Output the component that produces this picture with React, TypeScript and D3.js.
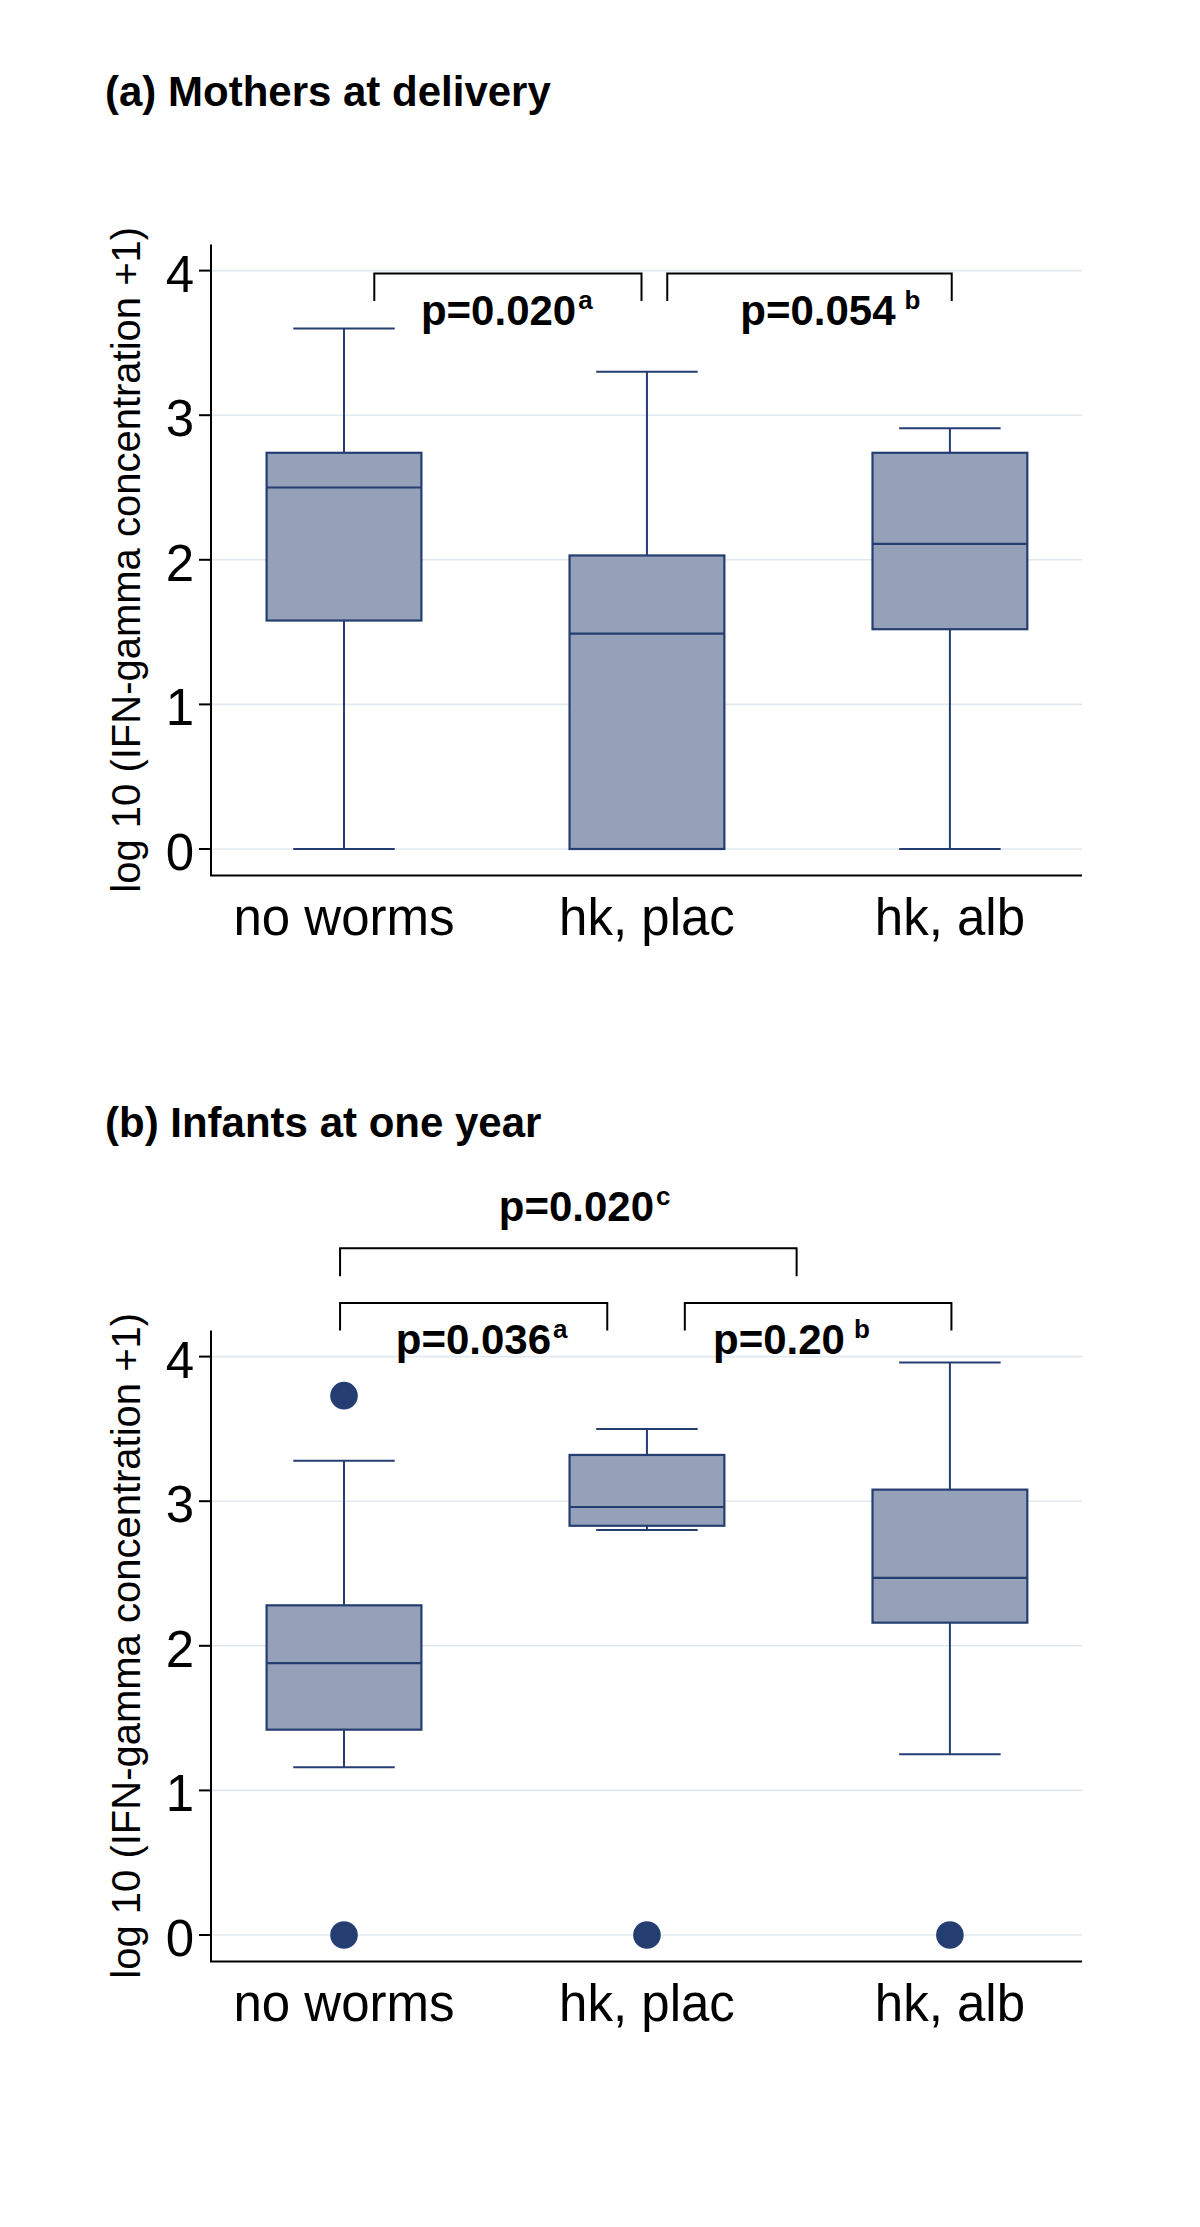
import React from "react";
import * as d3 from "d3";

// ---------- data ----------
const categories = ["no worms", "hk, plac", "hk, alb"];
const yTicks = [0, 1, 2, 3, 4];

// (a) Mothers at delivery
const motherWhiskerLow = [0, 0, 0];
const motherQ1 = [1.58, 0, 1.52];
const motherMedian = [2.5, 1.49, 2.11];
const motherQ3 = [2.74, 2.03, 2.74];
const motherWhiskerHigh = [3.6, 3.3, 2.91];
const motherOutliers: number[][] = [[], [], []];

// (b) Infants at one year
const infantWhiskerLow = [1.16, 2.8, 1.25];
const infantQ1 = [1.42, 2.83, 2.16];
const infantMedian = [1.88, 2.96, 2.47];
const infantQ3 = [2.28, 3.32, 3.08];
const infantWhiskerHigh = [3.28, 3.5, 3.96];
const infantOutliers: number[][] = [[3.73, 0], [0], [0]];

// p-value annotations (brackets in category/value units)
const motherBrackets = [
  { from: 0.1, to: 0.982, top: 3.98, end: 3.79, label: "p=0.020", sup: "a", space: false, lx: 0.254, ly: 3.625 },
  { from: 1.067, to: 2.006, top: 3.98, end: 3.79, label: "p=0.054", sup: "b", space: true, lx: 1.308, ly: 3.625 },
];
const infantBrackets = [
  { from: -0.013, to: 1.494, top: 4.75, end: 4.555, label: "p=0.020", sup: "c", space: false, lx: 0.511, ly: 4.94 },
  { from: -0.013, to: 0.869, top: 4.37, end: 4.18, label: "p=0.036", sup: "a", space: false, lx: 0.171, ly: 4.02 },
  { from: 1.125, to: 2.005, top: 4.37, end: 4.18, label: "p=0.20", sup: "b", space: true, lx: 1.218, ly: 4.02 },
];

const FONT = "'Liberation Sans', Arial, Helvetica, sans-serif";
const STROKE = "#253e72";
const FILL = "#95a1b8";
const GRID = "#e2e8ef";

type Bracket = typeof motherBrackets[number];

function Panel(props: {
  title: string;
  titleY: number;
  y0: number;
  wLow: number[];
  q1: number[];
  med: number[];
  q3: number[];
  wHigh: number[];
  outliers: number[][];
  brackets: Bracket[];
}) {
  const { title, titleY, y0, wLow, q1, med, q3, wHigh, outliers, brackets } = props;
  const unit = 144.6;
  const yMin = -0.183;
  const yMax = 4.18;
  const y = d3.scaleLinear().domain([yMin, yMax]).range([y0 - yMin * unit, y0 - yMax * unit]);
  const x = d3.scaleLinear().domain([-0.439, 2.436]).range([211, 1082]);
  const step = x(1) - x(0);
  const boxW = step * 0.511;
  const capW = step * 0.335;
  const [xL, xR] = x.range();
  const [yB, yT] = y.range();

  return (
    <g>
      <text x={105} y={titleY} fontFamily={FONT} fontWeight="bold" fontSize={42} fill="#000">
        {title}
      </text>
      {/* gridlines */}
      {yTicks.map((t) => (
        <line key={"g" + t} x1={xL} x2={xR} y1={y(t)} y2={y(t)} stroke={GRID} strokeWidth={1.6} />
      ))}
      {/* boxes */}
      {categories.map((c, i) => {
        const cx = x(i);
        return (
          <g key={c}>
            <line x1={cx} x2={cx} y1={y(wHigh[i])} y2={y(q3[i])} stroke={STROKE} strokeWidth={2} />
            <line x1={cx} x2={cx} y1={y(wLow[i])} y2={y(q1[i])} stroke={STROKE} strokeWidth={2} />
            <line x1={cx - capW / 2} x2={cx + capW / 2} y1={y(wHigh[i])} y2={y(wHigh[i])} stroke={STROKE} strokeWidth={2} />
            <line x1={cx - capW / 2} x2={cx + capW / 2} y1={y(wLow[i])} y2={y(wLow[i])} stroke={STROKE} strokeWidth={2} />
            <rect
              x={cx - boxW / 2}
              y={y(q3[i])}
              width={boxW}
              height={y(q1[i]) - y(q3[i])}
              fill={FILL}
              stroke={STROKE}
              strokeWidth={2.2}
            />
            <line x1={cx - boxW / 2} x2={cx + boxW / 2} y1={y(med[i])} y2={y(med[i])} stroke={STROKE} strokeWidth={2.2} />
            {outliers[i].map((o, k) => (
              <circle key={k} cx={cx} cy={y(o)} r={13.8} fill={STROKE} />
            ))}
            <text x={cx} y={yB + 60} textAnchor="middle" fontFamily={FONT} fontSize={51} fill="#000">
              {c}
            </text>
          </g>
        );
      })}
      {/* axes */}
      <line x1={xL} x2={xL} y1={yT} y2={yB} stroke="#000" strokeWidth={2} />
      <line x1={xL - 1} x2={xR} y1={yB} y2={yB} stroke="#000" strokeWidth={2} />
      {yTicks.map((t) => (
        <g key={"t" + t}>
          <line x1={xL - 12} x2={xL} y1={y(t)} y2={y(t)} stroke="#000" strokeWidth={2} />
          <text x={xL - 17} y={y(t)} dy="0.41em" textAnchor="end" fontFamily={FONT} fontSize={51} fill="#000">
            {t}
          </text>
        </g>
      ))}
      <text
        transform={`translate(140, ${y(2)}) rotate(-90)`}
        textAnchor="middle"
        fontFamily={FONT}
        fontSize={40}
        fill="#000"
      >
        log 10 (IFN-gamma concentration +1)
      </text>
      {/* brackets and p-values */}
      {brackets.map((b, k) => (
        <g key={"b" + k}>
          <path
            d={`M${x(b.from)},${y(b.end)}L${x(b.from)},${y(b.top)}L${x(b.to)},${y(b.top)}L${x(b.to)},${y(b.end)}`}
            fill="none"
            stroke="#000"
            strokeWidth={2}
          />
          <text x={x(b.lx)} y={y(b.ly)} fontFamily={FONT} fontWeight="bold" fontSize={42} fill="#000">
            <tspan>{b.label}</tspan>
            <tspan dx={b.space ? 9 : 2} dy={-16} fontSize={26}>
              {b.sup}
            </tspan>
          </text>
        </g>
      ))}
    </g>
  );
}

export default function App() {
  return (
    <svg
      width={1200}
      height={2227}
      viewBox="0 0 1200 2227"
      style={{ position: "absolute", left: 0, top: 0, display: "block", background: "#fff" }}
    >
      <rect width={1200} height={2227} fill="#fff" />
      <Panel
        title="(a) Mothers at delivery"
        titleY={106}
        y0={849}
        wLow={motherWhiskerLow}
        q1={motherQ1}
        med={motherMedian}
        q3={motherQ3}
        wHigh={motherWhiskerHigh}
        outliers={motherOutliers}
        brackets={motherBrackets}
      />
      <Panel
        title="(b) Infants at one year"
        titleY={1137}
        y0={1935}
        wLow={infantWhiskerLow}
        q1={infantQ1}
        med={infantMedian}
        q3={infantQ3}
        wHigh={infantWhiskerHigh}
        outliers={infantOutliers}
        brackets={infantBrackets}
      />
    </svg>
  );
}
